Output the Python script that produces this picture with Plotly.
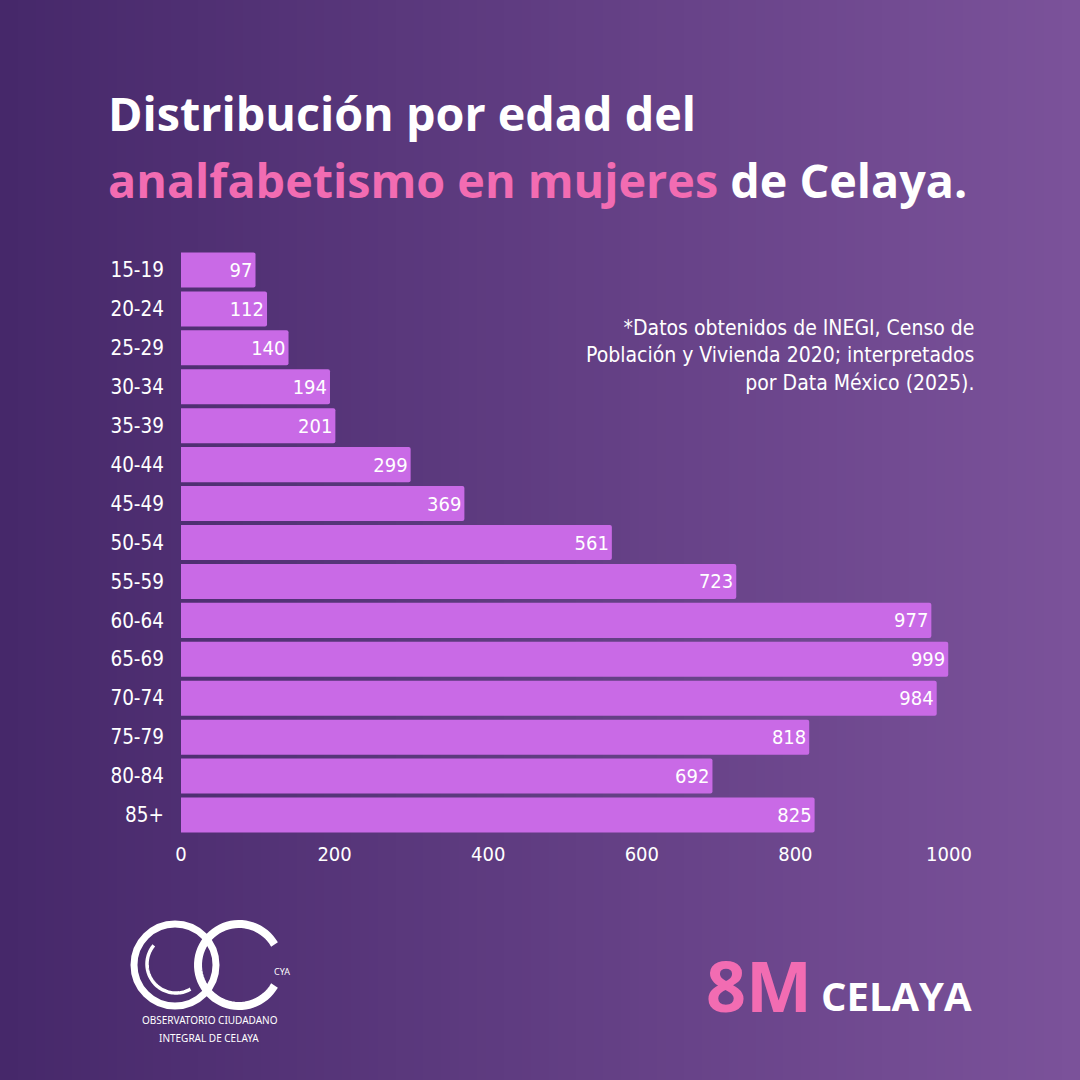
import numpy as np
import plotly.graph_objects as go

###############
## CONSTANTS ##
###############

W, H = 1080, 1080

age_groups = ["15-19", "20-24", "25-29", "30-34", "35-39", "40-44", "45-49",
              "50-54", "55-59", "60-64", "65-69", "70-74", "75-79", "80-84", "85+"]
women_illiterate = [97, 112, 140, 194, 201, 299, 369, 561, 723, 977, 999, 984, 818, 692, 825]
x_ticks = [0, 200, 400, 600, 800, 1000]

BAR_COLOR = "#c96ae6"
PINK = "#f26cb2"
BG_LEFT = (70, 40, 106)
BG_RIGHT = (123, 82, 154)
BODY_FONT = "DejaVu Sans Condensed, DejaVu Sans"

##########################
## FUNCTION DEFINITIONS ##
##########################

# Converts pixel coordinates (top-left origin) into paper coordinates.
def px(x, y):
  return x / W, 1 - y / H

# Builds an open polyline path approximating an arc, in paper coordinates.
def arc_path(cx, cy, r, start_deg, end_deg, n=60):
  angles = np.radians(np.linspace(start_deg, end_deg, n))
  pts = [px(cx + r * np.cos(a), cy - r * np.sin(a)) for a in angles]
  return "M " + " L ".join(f"{x:.5f},{y:.5f}" for x, y in pts)

#################
## MAIN SCRIPT ##
#################

fig = go.Figure(go.Bar(
  x=women_illiterate,
  y=age_groups,
  orientation="h",
  marker=dict(color=BAR_COLOR, line=dict(width=0), cornerradius=2),
  text=women_illiterate,
  textposition="inside",
  insidetextanchor="end",
  textfont=dict(family=BODY_FONT, size=20, color="white"),
  cliponaxis=False,
))

# gradient background made of thin vertical strips
shapes = []
n_strips = 120
for i in range(n_strips):
  t = i / (n_strips - 1)
  c = tuple(int(round(a + (b - a) * t)) for a, b in zip(BG_LEFT, BG_RIGHT))
  shapes.append(dict(
    type="rect", xref="paper", yref="paper", layer="below",
    x0=i / n_strips, x1=(i + 1) / n_strips + 0.002, y0=0, y1=1,
    fillcolor=f"rgb{c}", line=dict(width=0),
  ))

# logo: O, C and the inner crescent
ox0, oy0 = px(134, 924)
ox1, oy1 = px(216, 1006)
shapes.append(dict(type="circle", xref="paper", yref="paper",
                   x0=ox0, y0=oy1, x1=ox1, y1=oy0,
                   line=dict(color="white", width=7)))
shapes.append(dict(type="path", xref="paper", yref="paper",
                   path=arc_path(239, 965, 41, 30, 330),
                   line=dict(color="white", width=8)))
shapes.append(dict(type="path", xref="paper", yref="paper",
                   path=arc_path(176, 964, 29, 140, 300),
                   line=dict(color="white", width=3.5)))

annotations = [
  dict(text="<b>Distribución por edad del</b>", x=106 / W, y=1 - 113 / H,
       xanchor="left", yanchor="middle",
       font=dict(family="Open Sans", size=46.7, color="white")),
  dict(text=f"<b><span style='color:{PINK}'>analfabetismo en mujeres</span> de Celaya.</b>",
       x=106 / W, y=1 - 180 / H, xanchor="left", yanchor="middle",
       font=dict(family="Open Sans", size=46.7, color="white")),
  dict(text="*Datos obtenidos de INEGI, Censo de<br>Población y Vivienda 2020; interpretados<br>por Data México (2025).",
       x=976 / W, y=1 - 355 / H, xanchor="right", yanchor="middle", align="right",
       font=dict(family=BODY_FONT, size=21, color="white")),
  dict(text="<b>8M</b>", x=704 / W, y=1 - 985 / H, xanchor="left", yanchor="middle",
       font=dict(family="Open Sans", size=70, color=PINK)),
  dict(text="<b>CELAYA</b>", x=974 / W, y=1 - 995 / H, xanchor="right", yanchor="middle",
       font=dict(family="Open Sans", size=40, color="white")),
  dict(text="CYA", x=282 / W, y=1 - 971 / H, xanchor="center", yanchor="middle",
       font=dict(family="Noto Sans", size=9, color="white")),
  dict(text="OBSERVATORIO CIUDADANO", x=210 / W, y=1 - 1020 / H,
       xanchor="center", yanchor="middle",
       font=dict(family="Noto Sans", size=10, color="white")),
  dict(text="INTEGRAL DE CELAYA", x=209 / W, y=1 - 1038 / H,
       xanchor="center", yanchor="middle",
       font=dict(family="Noto Sans", size=10, color="white")),
]
for a in annotations:
  a.update(xref="paper", yref="paper", showarrow=False)

fig.update_layout(
  width=W, height=H,
  autosize=False,
  margin=dict(l=0, r=0, t=0, b=0, pad=0, autoexpand=False),
  paper_bgcolor=f"rgb{BG_LEFT}",
  plot_bgcolor="rgba(0,0,0,0)",
  showlegend=False,
  bargap=0.1,
  shapes=shapes,
  annotations=annotations,
  xaxis=dict(
    domain=[181 / W, 949 / W],
    range=[0, 1000],
    tickvals=x_ticks,
    automargin=False,
    showgrid=False, zeroline=False, showline=False,
    ticks="", ticklabelstandoff=5,
    tickfont=dict(family=BODY_FONT, size=20, color="white"),
  ),
  yaxis=dict(
    domain=[1 - 834.5 / H, 1 - 250.5 / H],
    categoryorder="array",
    categoryarray=age_groups,
    autorange="reversed",
    automargin=False,
    showgrid=False, zeroline=False, showline=False,
    ticks="", ticklabelstandoff=16,
    tickfont=dict(family=BODY_FONT, size=20.5, color="white"),
  ),
  font=dict(family=BODY_FONT, color="white"),
)

fig.write_html(
  "out.html",
  config={"responsive": False, "displayModeBar": False},
  post_script="document.body.style.margin='0';document.body.style.overflow='hidden';",
)
